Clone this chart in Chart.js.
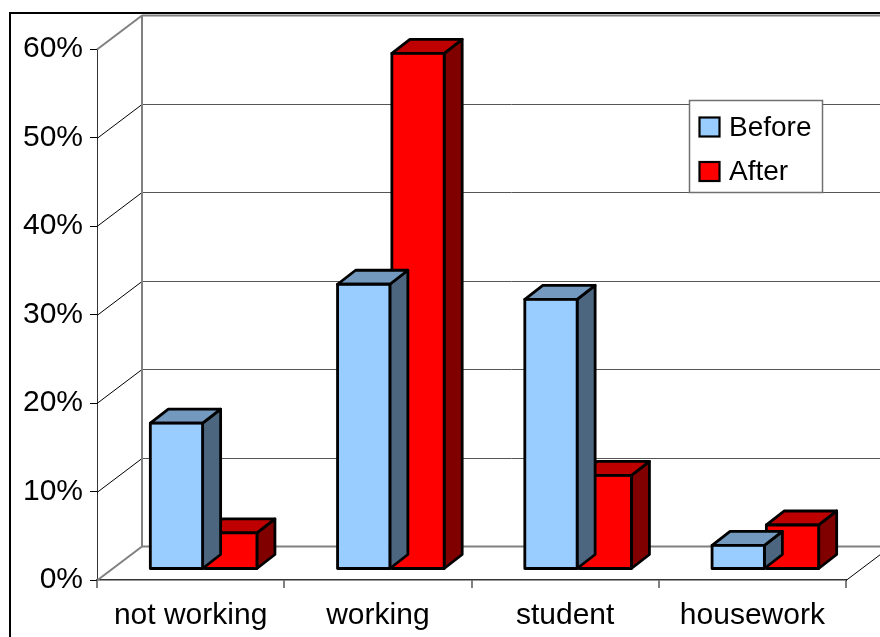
<!DOCTYPE html>
<html>
<head>
<meta charset="utf-8">
<script src="https://cdn.jsdelivr.net/npm/chart.js@4.4.1/dist/chart.umd.min.js"></script>
<style>
  html,body{margin:0;padding:0;background:#fff;}
  #wrap{position:relative;width:880px;height:637px;}
</style>
</head>
<body>
<div id="wrap"><canvas id="c"></canvas></div>
<script>
'use strict';

// ── DATA ────────────────────────────────────────────────
const categories = ['not working', 'working', 'student', 'housework'];
const seriesNames = ['Before', 'After'];
const beforeValues = [16.7, 32.4, 30.7, 2.9];
const afterValues  = [4.3, 58.5, 10.8, 5.2];
const yTicks = [0, 10, 20, 30, 40, 50, 60];

const FONT = "'Liberation Sans', Arial, sans-serif";

// ── 3D LOOK ─────────────────────────────────────────────
const WALL = { dx: 45, dy: 34 };        // floor depth (oblique)
const BAR_POS = { dx: 13, dy: 10 };     // bar front plane offset
const BAR_DEPTH = { dx: 18, dy: 14 };   // bar depth
const EDGE_W = 2.8;                     // bar outline width
const faces = [
  { front: '#99ccff', top: '#7399bf', side: '#4d6680' },
  { front: '#ff0000', top: '#bf0000', side: '#800000' }
];

function poly(ctx, pts, fill){
  ctx.beginPath();
  ctx.moveTo(pts[0][0], pts[0][1]);
  for(let i=1;i<pts.length;i++) ctx.lineTo(pts[i][0], pts[i][1]);
  ctx.closePath();
  ctx.fillStyle = fill;
  ctx.fill();
  ctx.stroke();
}

function barBox(bar){
  const { x, y, base, width } = bar.getProps(['x', 'y', 'base', 'width'], true);
  return { l: x - width / 2 + 1, r: x + width / 2 - 1, t: y + 1, b: base - 1 };
}

// ── WALLS + GRID ────────────────────────────────────────
const wallPlugin = {
  id: 'walls',
  beforeDraw(chart){
    const ctx = chart.ctx;
    ctx.save();
    ctx.fillStyle = '#fff';
    ctx.fillRect(0, 0, chart.width, chart.height);
    ctx.restore();
  },
  beforeDatasetsDraw(chart){
    const { ctx, chartArea: a, scales: { y } } = chart;
    const L = a.left, R = a.right, B = a.bottom;
    const first = yTicks[0], last = yTicks[yTicks.length - 1];
    ctx.save();
    yTicks.forEach(v => {
      const py = Math.round(y.getPixelForValue(v)) + 0.5;
      const edge = v === first || v === last;
      // side wall diagonal
      ctx.beginPath();
      ctx.strokeStyle = edge ? '#808080' : '#000';
      ctx.lineWidth = edge ? 2 : 1;
      ctx.moveTo(L, py);
      ctx.lineTo(L + WALL.dx, py - WALL.dy);
      ctx.stroke();
      // back wall line
      ctx.beginPath();
      ctx.strokeStyle = edge ? '#808080' : '#555';
      ctx.moveTo(L + WALL.dx, py - WALL.dy);
      ctx.lineTo(R + WALL.dx + 20, py - WALL.dy);
      ctx.stroke();
    });
    // back wall left edge
    const yTop = Math.round(y.getPixelForValue(last)) - WALL.dy;
    const yBot = Math.round(y.getPixelForValue(first)) - WALL.dy;
    ctx.beginPath();
    ctx.strokeStyle = '#808080';
    ctx.lineWidth = 2;
    ctx.moveTo(L + WALL.dx, yTop);
    ctx.lineTo(L + WALL.dx, yBot);
    ctx.stroke();
    // floor right edge
    ctx.beginPath();
    ctx.strokeStyle = '#000';
    ctx.lineWidth = 1;
    ctx.moveTo(R, B + 0.5);
    ctx.lineTo(R + WALL.dx, B - WALL.dy + 0.5);
    ctx.stroke();
    ctx.restore();
  }
};

// ── 3D BOXES (top + side faces, shifts front faces) ─────
const boxPlugin = {
  id: 'boxes',
  beforeDatasetDraw(chart, args){
    const ctx = chart.ctx;
    const f = faces[args.index];
    ctx.save();
    ctx.translate(BAR_POS.dx, -BAR_POS.dy);
    ctx.strokeStyle = '#000';
    ctx.lineWidth = EDGE_W;
    ctx.lineJoin = 'round';
    args.meta.data.forEach(bar => {
      const { l, r, t, b } = barBox(bar);
      const dx = BAR_DEPTH.dx, dy = BAR_DEPTH.dy;
      poly(ctx, [[r, t], [r + dx, t - dy], [r + dx, b - dy], [r, b]], f.side);
      poly(ctx, [[l, t], [l + dx, t - dy], [r + dx, t - dy], [r, t]], f.top);
    });
  },
  afterDatasetDraw(chart, args){
    const ctx = chart.ctx;
    ctx.strokeStyle = '#000';
    ctx.lineWidth = EDGE_W;
    args.meta.data.forEach(bar => {
      const { l, r, t, b } = barBox(bar);
      ctx.strokeRect(l, t, r - l, b - t);
    });
    ctx.restore();
  }
};

// ── LEGEND + OUTER FRAME ────────────────────────────────
const legendPlugin = {
  id: 'boxLegend',
  afterDraw(chart){
    const ctx = chart.ctx;
    ctx.save();
    ctx.fillStyle = '#fff';
    ctx.fillRect(689, 100, 134, 93);
    ctx.strokeStyle = '#707070';
    ctx.lineWidth = 1.5;
    ctx.strokeRect(689.5, 100.5, 133, 92);
    chart.data.datasets.forEach((ds, i) => {
      const cy = 127 + i * 44.5;
      ctx.fillStyle = ds.backgroundColor;
      ctx.fillRect(699, cy - 10, 21, 20);
      ctx.strokeStyle = '#000';
      ctx.lineWidth = 2.2;
      ctx.strokeRect(699.5, cy - 9.5, 20, 19);
      ctx.fillStyle = '#000';
      ctx.font = '28px ' + FONT;
      ctx.textBaseline = 'middle';
      ctx.textAlign = 'left';
      ctx.fillText(ds.label, 729, cy + 1);
    });
    // chart frame
    ctx.strokeStyle = '#000';
    ctx.lineWidth = 2;
    ctx.strokeRect(10, 13, 1000, 1000);
    ctx.restore();
  }
};

Chart.defaults.font.family = FONT;
Chart.defaults.color = '#000';

new Chart(document.getElementById('c').getContext('2d'), {
  type: 'bar',
  data: {
    labels: categories,
    datasets: [
      { label: seriesNames[0], data: beforeValues, backgroundColor: faces[0].front },
      { label: seriesNames[1], data: afterValues,  backgroundColor: faces[1].front }
    ].map(ds => Object.assign(ds, {
      borderColor: '#000',
      borderWidth: 2,
      borderSkipped: false,
      clip: false,
      categoryPercentage: 0.58,
      barPercentage: 1
    }))
  },
  options: {
    responsive: true,
    maintainAspectRatio: false,
    animation: false,
    layout: { padding: { top: 49, right: 34, left: 0, bottom: 0 } },
    plugins: {
      legend: { display: false },
      tooltip: { enabled: false }
    },
    scales: {
      x: {
        offset: true,
        grid: { offset: true, drawOnChartArea: false, drawTicks: true, tickLength: 8, color: '#808080', lineWidth: 2 },
        border: { display: true, color: '#333', width: 1.5 },
        ticks: { font: { size: 30 }, color: '#000', padding: 10, maxRotation: 0 },
        afterFit(s){ s.height = 57; }
      },
      y: {
        min: yTicks[0],
        max: yTicks[yTicks.length - 1],
        afterBuildTicks(s){ s.ticks = yTicks.map(v => ({ value: v })); },
        ticks: { font: { size: 30 }, color: '#000', padding: 7, callback: v => v + '%' },
        grid: { drawOnChartArea: false, tickLength: 7, color: '#000' },
        border: { display: true, color: '#333', width: 1 },
        afterFit(s){ s.width = 97; }
      }
    }
  },
  plugins: [wallPlugin, boxPlugin, legendPlugin]
});
</script>
</body>
</html>
